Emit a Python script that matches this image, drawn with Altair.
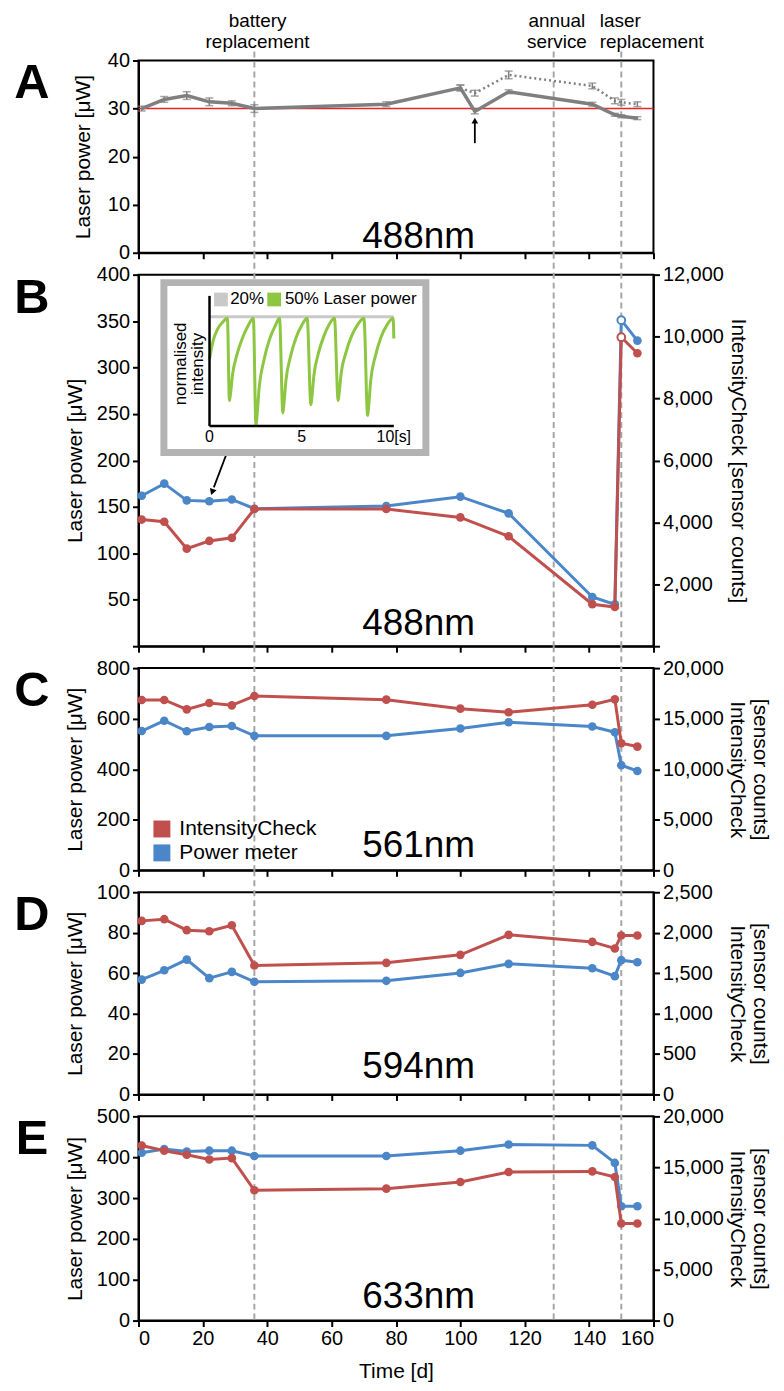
import altair as alt
import pandas as pd

FONT = "Liberation Sans, Arial, Helvetica, sans-serif"
RED = "#c0504d"
BLUE = "#4a86c8"
GRAY = "#7f7f7f"
DASH = "#a6a6a6"
GREEN = "#8dc641"
LIGHT = "#c9c9c9"
FRAME = "#b3b3b3"
REFRED = "#e8262a"

# ---------------- data ----------------
times = [1, 8, 15, 22, 29, 36, 77, 100, 115, 141, 148, 150, 155]
events = [36, 129, 150]
event_centered_t = [37, 130]
event_centered = ["battery\nreplacement", "annual\nservice"]
event_left_t = [143.3]
event_left = ["laser\nreplacement"]

# panel A (488 nm, power meter, error bars)
a_times = [1, 8, 15, 22, 29, 36, 77, 100, 104.5, 115, 141, 148, 150, 155]
a_solid = [30.0, 31.9, 32.7, 31.4, 31.1, 30.0, 30.9, 34.3, 29.4, 33.5, 30.9, 28.7, 28.4, 28.0]
a_solid_err = [0.5, 0.6, 0.8, 0.8, 0.5, 0.8, 0.5, 0.6, 0.5, 0.4, 0.4, 0.3, 0.3, 0.3]
a_dot_times = [100, 104.5, 115, 141, 148, 150, 155]
a_dotted = [34.3, 33.2, 37.0, 34.7, 31.6, 31.3, 30.9]
a_dotted_err = [0.6, 0.6, 0.8, 0.6, 0.6, 0.6, 0.5]
a_reference = [30]
a_arrow_t = [104.5]
a_arrow_from = [22.8]
a_arrow_to = [27.0]
a_arrow_tip = [27.5]

# panels B-E: power meter [uW] and IntensityCheck [sensor counts]
b_power = [162, 175, 157, 156, 158, 148, 151, 161, 143, 53, 45, 351, 329]
b_ic = [4090, 4020, 3150, 3400, 3500, 4430, 4430, 4160, 3550, 1355, 1265, 9980, 9460]
b_open = [False, False, False, False, False, False, False, False, False, False, False, True, False]
c_power = [551, 592, 550, 567, 571, 532, 532, 561, 586, 569, 546, 416, 393]
c_ic = [16850, 16850, 15920, 16550, 16320, 17240, 16880, 15990, 15630, 16380, 16910, 12570, 12240]
d_power = [56.8, 61.4, 66.7, 57.5, 60.6, 55.7, 56.2, 60.1, 64.6, 62.4, 58.5, 66.4, 65.4]
d_ic = [2146, 2167, 2031, 2018, 2092, 1594, 1627, 1726, 1973, 1886, 1804, 1965, 1965]
e_power = [411, 420, 414, 416, 416, 403, 403, 416, 431, 429, 386, 280, 280]
e_ic = [17140, 16630, 16240, 15780, 15910, 12760, 12920, 13570, 14550, 14610, 14060, 9510, 9510]
no_open = [False] * 13

b_arrow_t = [27.9]
b_arrow_y = [212]
b_arrow_t2 = [23.4]
b_arrow_y2 = [171]
b_arrow_tip_t = [22.9]
b_arrow_tip_y = [166]

# inset (bleaching test)
gray_t = [0, 10]
gray_v = [1.0, 1.0]
green_t = [0, 0.18, 0.45, 0.72, 0.97, 1.08, 1.12, 1.25, 1.5, 1.8, 2.1, 2.38,
           2.52, 2.56, 2.7, 2.95, 3.25, 3.55, 3.8, 3.98, 4.02, 4.15, 4.4, 4.7, 5.0, 5.3,
           5.5, 5.54, 5.67, 5.9, 6.2, 6.5, 6.78, 6.98, 7.02, 7.15, 7.4, 7.7, 8.05, 8.38,
           8.58, 8.62, 8.75, 9.0, 9.3, 9.65, 9.97, 10.0]
green_v = [0.61, 0.77, 0.89, 0.95, 0.985, 0.234, 0.27, 0.47, 0.66, 0.81, 0.92, 0.985,
           0.006, 0.06, 0.36, 0.6, 0.79, 0.91, 0.985, 0.12, 0.17, 0.42, 0.64, 0.81, 0.92, 0.985,
           0.195, 0.24, 0.47, 0.66, 0.82, 0.93, 0.985, 0.234, 0.28, 0.49, 0.67, 0.82, 0.93, 0.985,
           0.097, 0.15, 0.42, 0.64, 0.81, 0.93, 0.985, 0.80]
inset_tick_t = [0, 5, 10]
inset_tick_labels = ["0", "5", "10[s]"]
inset_legend_sq_t = [0.62, 3.51]
inset_legend_colors = [LIGHT, GREEN]
inset_legend_t = [1.12, 4.09]
inset_legend_labels = ["20%", "50% Laser power"]

legend_labels = ["IntensityCheck", "Power meter"]

x_ticks = [0, 20, 40, 60, 80, 100, 120, 140, 160]
a_ticks = [0, 10, 20, 30, 40]
b_left_ticks = [0, 50, 100, 150, 200, 250, 300, 350, 400]
b_right_ticks = [0, 2000, 4000, 6000, 8000, 10000, 12000]
c_left_ticks = [0, 200, 400, 600, 800]
c_right_ticks = [0, 5000, 10000, 15000, 20000]
d_left_ticks = [0, 20, 40, 60, 80, 100]
d_right_ticks = [0, 500, 1000, 1500, 2000, 2500]
e_left_ticks = [0, 100, 200, 300, 400, 500]
e_right_ticks = [0, 5000, 10000, 15000, 20000]

# ---------------- layout ----------------
W = 517
H_A, H_B, H_C, H_D, H_E = 193, 373, 203, 203, 205
LETTER_X = -107
LETTER_Y = 38


def x_enc(show):
    if show:
        ax = alt.Axis(values=x_ticks, labels=True, title="Time [d]", labelPadding=2,
                      titlePadding=12)
    else:
        ax = alt.Axis(values=x_ticks, labels=False, title=None)
    return alt.X("t:Q", scale=alt.Scale(domain=[0, 160], nice=False), axis=ax)


def letter_layer(letter):
    return alt.Chart(pd.DataFrame({"label": [letter]})).mark_text(
        fontSize=49, fontWeight="bold", align="center", baseline="alphabetic"
    ).encode(x=alt.value(LETTER_X), y=alt.value(LETTER_Y), text="label:N")


def wave_layer(X, wave, y):
    return alt.Chart(pd.DataFrame({"t": [87], "label": [wave]})).mark_text(
        fontSize=37, align="center", baseline="alphabetic"
    ).encode(x=X, y=alt.value(y), text="label:N")


def rules_layer(X, top, h):
    return alt.Chart(pd.DataFrame({"t": events})).mark_rule(
        color=DASH, strokeWidth=2, strokeDash=[6, 4]
    ).encode(x=X, y=alt.value(top), y2=alt.value(h))


def dual_panel(letter, wave, wave_dy, h, power, ic, is_open, left_ticks, right_ticks,
               right_title, right_title_x, show_x, hide_zero=False, legend=False,
               extra=None):
    df = pd.DataFrame({"t": times, "power": power, "ic": ic, "open": is_open})
    X = x_enc(show_x)
    lax = dict(values=left_ticks, title="Laser power [μW]", titleX=-63, titleY=h / 2,
               titleAngle=270, titleAlign="center", titleBaseline="middle")
    rax = dict(orient="right", values=right_ticks, format=",.0f", title=right_title,
               titleX=right_title_x, titleY=h / 2, titleAngle=90, titleAlign="center",
               titleBaseline="middle", titleLineHeight=23)
    if hide_zero:
        lax["labelExpr"] = "datum.value == 0 ? '' : datum.label"
        rax["labelExpr"] = "datum.value == 0 ? '' : datum.label"
    YL = alt.Y("power:Q", scale=alt.Scale(domain=[left_ticks[0], left_ticks[-1]], nice=False),
               axis=alt.Axis(**lax))
    YR = alt.Y("ic:Q", scale=alt.Scale(domain=[right_ticks[0], right_ticks[-1]], nice=False),
               axis=alt.Axis(**rax))
    base = alt.Chart(df)
    filled = base.transform_filter("!datum.open")
    opened = base.transform_filter("datum.open")

    if legend:
        col = alt.Color("series:N",
                        scale=alt.Scale(domain=legend_labels, range=[RED, BLUE]),
                        legend=alt.Legend(orient="none", legendX=13, legendY=h - 52,
                                          title=None, symbolType="square", symbolSize=289,
                                          symbolStrokeWidth=0, symbolOpacity=1,
                                          labelFontSize=21, labelOffset=7, rowPadding=2,
                                          padding=0, direction="vertical",
                                          labelColor="black"))
        blue_pts = filled.transform_calculate(series="'Power meter'").mark_circle(
            size=75, opacity=1).encode(x=X, y=YL, color=col)
        red_pts = filled.transform_calculate(series="'IntensityCheck'").mark_circle(
            size=75, opacity=1).encode(x=X, y=YR, color=col)
    else:
        blue_pts = filled.mark_circle(size=75, opacity=1, color=BLUE).encode(x=X, y=YL)
        red_pts = filled.mark_circle(size=75, opacity=1, color=RED).encode(x=X, y=YR)

    blue_line = base.mark_line(color=BLUE, strokeWidth=3).encode(x=X, y=YL)
    red_line = base.mark_line(color=RED, strokeWidth=3).encode(x=X, y=YR)
    blue_open = opened.mark_point(shape="circle", filled=True, fill="white", stroke=BLUE,
                                  strokeWidth=2, size=60, opacity=1).encode(x=X, y=YL)
    red_open = opened.mark_point(shape="circle", filled=True, fill="white", stroke=RED,
                                 strokeWidth=2, size=60, opacity=1).encode(x=X, y=YR)

    left_layers = [rules_layer(X, -22, h), blue_line, blue_pts, blue_open,
                   letter_layer(letter), wave_layer(X, wave, h - wave_dy)]
    if extra is not None:
        left_layers += extra(X)
    blue_group = alt.layer(*left_layers)
    red_group = alt.layer(red_line, red_pts, red_open)
    return alt.layer(blue_group, red_group).resolve_scale(y="independent")


# ---------------- panel A ----------------
XA = x_enc(False)
scA = alt.Scale(domain=[a_ticks[0], a_ticks[-1]], nice=False)
axA = alt.Axis(values=a_ticks, title="Laser power [μW]", titleX=-55, titleY=H_A / 2,
               titleAngle=270, titleAlign="center", titleBaseline="middle")


def YA(f):
    return alt.Y(f, scale=scA, axis=axA)


dfA = pd.DataFrame({"t": a_times, "v": a_solid, "e": a_solid_err})
dfA2 = pd.DataFrame({"t": a_dot_times, "v": a_dotted, "e": a_dotted_err})
dfErr = pd.concat([dfA, dfA2], ignore_index=True)
errs = alt.Chart(dfErr).transform_calculate(lo="datum.v - datum.e", hi="datum.v + datum.e")

a_ref = alt.Chart(pd.DataFrame({"v": a_reference})).mark_rule(
    color=REFRED, strokeWidth=1.6).encode(y=YA("v:Q"))
a_line = alt.Chart(dfA).mark_line(color=GRAY, strokeWidth=3.5).encode(x=XA, y=YA("v:Q"))
a_dots = alt.Chart(dfA2).mark_line(color=GRAY, strokeWidth=2.5, strokeDash=[2, 3]).encode(
    x=XA, y=YA("v:Q"))
a_err = errs.mark_rule(color=GRAY, strokeWidth=1.5).encode(x=XA, y=YA("lo:Q"), y2="hi:Q")
a_cap_lo = errs.mark_tick(color=GRAY, orient="horizontal", size=8, thickness=1.5).encode(
    x=XA, y=YA("lo:Q"))
a_cap_hi = errs.mark_tick(color=GRAY, orient="horizontal", size=8, thickness=1.5).encode(
    x=XA, y=YA("hi:Q"))
dfArrA = pd.DataFrame({"t": a_arrow_t, "y0": a_arrow_from, "y1": a_arrow_to, "tip": a_arrow_tip})
a_arrow = alt.Chart(dfArrA).mark_rule(color="black", strokeWidth=1.8).encode(
    x=XA, y=YA("y0:Q"), y2="y1:Q")
a_head = alt.Chart(dfArrA).mark_point(shape="triangle-up", filled=True, color="black",
                                      size=45, opacity=1).encode(x=XA, y=YA("tip:Q"))
ann_c = alt.Chart(pd.DataFrame({"t": event_centered_t, "label": event_centered})).mark_text(
    lineBreak="\n", fontSize=19, lineHeight=21, align="center", baseline="middle"
).encode(x=XA, y=alt.value(-40), text="label:N")
ann_l = alt.Chart(pd.DataFrame({"t": event_left_t, "label": event_left})).mark_text(
    lineBreak="\n", fontSize=19, lineHeight=21, align="left", baseline="middle"
).encode(x=XA, y=alt.value(-40), text="label:N")

panelA = alt.layer(
    rules_layer(XA, -9, H_A), a_ref, a_line, a_dots, a_err, a_cap_lo, a_cap_hi,
    a_arrow, a_head, letter_layer("A"), wave_layer(XA, "488nm", H_A - 5), ann_c, ann_l
).properties(width=W, height=H_A)


# ---------------- panel B ----------------
def b_extra(X):
    YLb = alt.Scale(domain=[b_left_ticks[0], b_left_ticks[-1]], nice=False)
    df = pd.DataFrame({"t": b_arrow_t, "y": b_arrow_y, "t2": b_arrow_t2, "y2": b_arrow_y2,
                       "tt": b_arrow_tip_t, "ty": b_arrow_tip_y})
    ax = alt.Axis(values=b_left_ticks, title="Laser power [μW]", titleX=-63, titleY=H_B / 2,
                  titleAngle=270, titleAlign="center", titleBaseline="middle",
                  labelExpr="datum.value == 0 ? '' : datum.label")
    line = alt.Chart(df).mark_rule(color="black", strokeWidth=1.8).encode(
        x=X, y=alt.Y("y:Q", scale=YLb, axis=ax), x2="t2:Q", y2="y2:Q")
    head = alt.Chart(df).mark_point(shape="triangle-up", filled=True, color="black",
                                    size=50, opacity=1, angle=200).encode(
        x=alt.X("tt:Q", scale=alt.Scale(domain=[0, 160], nice=False),
                axis=alt.Axis(values=x_ticks, labels=False, title=None)),
        y=alt.Y("ty:Q", scale=YLb, axis=ax))
    return [line, head]


mainB = dual_panel("B", "488nm", 11, H_B, b_power, b_ic, b_open, b_left_ticks, b_right_ticks,
                   "IntensityCheck [sensor counts]", 84.5, False, hide_zero=True,
                   extra=b_extra)

IX = alt.X("it:Q", scale=alt.Scale(domain=[0, 10], range=[71.3, 256.3], nice=False, zero=False),
           axis=None)
IY = alt.Y("iv:Q", scale=alt.Scale(domain=[0, 1.19], range=[152, 21.3], nice=False, zero=False),
           axis=None)

inset_box = alt.Chart(pd.DataFrame({"k": [0]})).mark_rect(
    fill="white", stroke=FRAME, strokeWidth=7).encode(
    x=alt.value(25.5), x2=alt.value(288.5), y=alt.value(8), y2=alt.value(178.5))
inset_gray = alt.Chart(pd.DataFrame({"it": gray_t, "iv": gray_v})).mark_line(
    color=LIGHT, strokeWidth=3).encode(x=IX, y=IY)
inset_green = alt.Chart(pd.DataFrame({"it": green_t, "iv": green_v})).mark_line(
    color=GREEN, strokeWidth=3, interpolate="monotone").encode(x=IX, y=IY)
inset_axes = alt.Chart(pd.DataFrame({"it": [0, 0], "iv": [0, 0], "it2": [10, 0],
                                     "iv2": [0, 1.19]})).mark_rule(
    color="black", strokeWidth=2.5).encode(x=IX, y=IY, x2="it2:Q", y2="iv2:Q")
inset_ticks = alt.Chart(pd.DataFrame({"it": inset_tick_t, "iv": [-0.1, -0.1, -0.1],
                                      "label": inset_tick_labels})).mark_text(
    fontSize=16, align="center", baseline="middle").encode(x=IX, y=IY, text="label:N")
inset_sq = alt.Chart(pd.DataFrame({"it": inset_legend_sq_t, "iv": [1.157, 1.157],
                                   "c": inset_legend_colors})).mark_square(
    size=190, opacity=1).encode(x=IX, y=IY, color=alt.Color("c:N", scale=None))
inset_lab = alt.Chart(pd.DataFrame({"it": inset_legend_t, "iv": [1.157, 1.157],
                                    "label": inset_legend_labels})).mark_text(
    fontSize=17, align="left", baseline="middle").encode(x=IX, y=IY, text="label:N")
inset_title = alt.Chart(pd.DataFrame({"it": [-1.53], "iv": [0.568],
                                      "label": ["normalised\nintensity"]})).mark_text(
    fontSize=17, lineBreak="\n", lineHeight=17, angle=270, align="center",
    baseline="middle").encode(x=IX, y=IY, text="label:N")
inset = alt.layer(inset_box, inset_gray, inset_green, inset_axes, inset_ticks, inset_sq,
                  inset_lab, inset_title)

panelB = alt.layer(mainB, inset).resolve_scale(x="independent", y="independent").properties(
    width=W, height=H_B)

# ---------------- panels C-E ----------------
two_line_title = ["[sensor counts]", "IntensityCheck"]
panelC = dual_panel("C", "561nm", 13, H_C, c_power, c_ic, no_open, c_left_ticks, c_right_ticks,
                    two_line_title, 106, False, legend=True).properties(width=W, height=H_C)
panelD = dual_panel("D", "594nm", 17, H_D, d_power, d_ic, no_open, d_left_ticks, d_right_ticks,
                    two_line_title, 106, False).properties(width=W, height=H_D)
panelE = dual_panel("E", "633nm", 13, H_E, e_power, e_ic, no_open, e_left_ticks, e_right_ticks,
                    two_line_title, 106, True).properties(width=W, height=H_E)

chart = alt.vconcat(panelA, panelB, panelC, panelD, panelE, spacing=22, bounds="flush"
                    ).resolve_scale(x="independent", color="independent").properties(
    padding={"left": 5, "top": 0, "right": 5, "bottom": 5}
).configure_view(stroke="black", strokeWidth=2).configure_axis(
    domainColor="black", domainWidth=2, tickColor="black", tickWidth=2, tickSize=6,
    labelColor="black", titleColor="black", labelFont=FONT, titleFont=FONT,
    labelFontSize=20, titleFontSize=21, titleFontWeight="normal", grid=False, labelPadding=3
).configure_text(font=FONT, color="black").configure_legend(labelFont=FONT)

chart.save("out.html", embed_options={"renderer": "svg", "actions": False})
